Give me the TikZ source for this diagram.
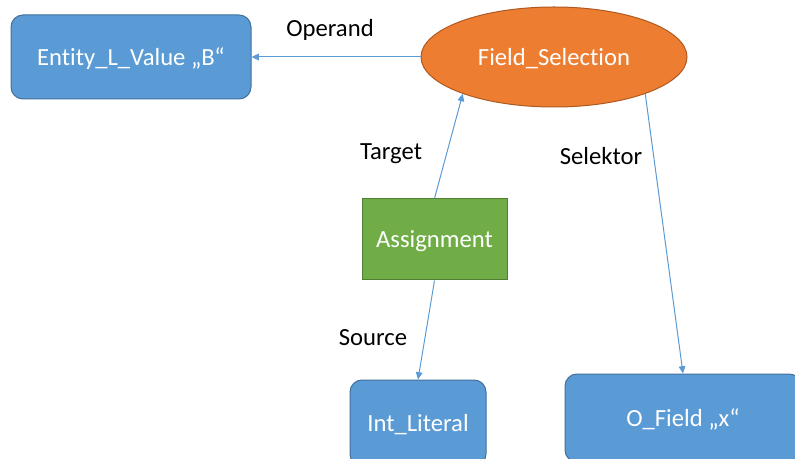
\documentclass[tikz,border=0pt]{standalone}
\usepackage{fontspec}
\setmainfont[Ligatures=NoCommon]{Carlito}
\usetikzlibrary{shapes.geometric,arrows.meta}
\definecolor{boxblue}{HTML}{5B9BD5}
\definecolor{boxblueedge}{HTML}{41719C}
\definecolor{ovalorange}{HTML}{ED7D31}
\definecolor{ovalorangeedge}{HTML}{AE5A21}
\definecolor{boxgreen}{HTML}{70AD47}
\definecolor{boxgreenedge}{HTML}{507E32}
\tikzset{
  base/.style={text=white, font=\fontsize{18.5}{21}\selectfont, inner sep=0pt,
    text height=16pt, text depth=3.5pt, line width=0.75pt},
  roundbox/.style={base, draw=boxblueedge, fill=boxblue, rounded corners=9pt, rectangle},
  oval/.style={base, draw=ovalorangeedge, fill=ovalorange, ellipse},
  squarebox/.style={base, draw=boxgreenedge, fill=boxgreen, rectangle},
  link/.style={draw=boxblue, line width=0.75pt, -{Triangle[length=5.5pt,width=5pt]}},
  role/.style={text=black, font=\fontsize{18.5}{21}\selectfont, inner sep=0pt}
}
\begin{document}
\begin{tikzpicture}[x=0.75pt, y=-0.75pt]
  \useasboundingbox (0,0) rectangle (795,459);
  \clip (0,0) rectangle (795,459);
  \fill[white] (0,0) rectangle (795,459);

  % tree nodes
  \node[roundbox, minimum width=180pt, minimum height=63pt] (ent) at (131,57) {Entity\_L\_Value „B“};
  \node[oval, minimum width=199.5pt, minimum height=75pt] (fs) at (554,57) {Field\_Selection};
  \node[squarebox, minimum width=108.75pt, minimum height=60.75pt] (asg) at (434.5,239.5) {Assignment};
  \node[roundbox, minimum width=102pt, minimum height=64.5pt] (int) at (418,423) {Int\_Literal};
  \node[roundbox, minimum width=177pt, minimum height=66pt] (ofd) at (683,418) {O\_Field „x“};

  % edges
  \draw[link] (fs.west) -- (ent.east);
  \draw[link] (asg.north) -- (fs.202);
  \draw[link] (fs.338) -- (ofd.north);
  \draw[link] (asg.south) -- (int.north);

  % edge roles
  \node[role] (lop) at (330,30) {Operand};
  \node[role] (ltg) at (391,154) {Target};
  \node[role] (lsel) at (601,156) {Selektor};
  \node[role] (lsrc) at (373,338) {Source};
\end{tikzpicture}
\end{document}
